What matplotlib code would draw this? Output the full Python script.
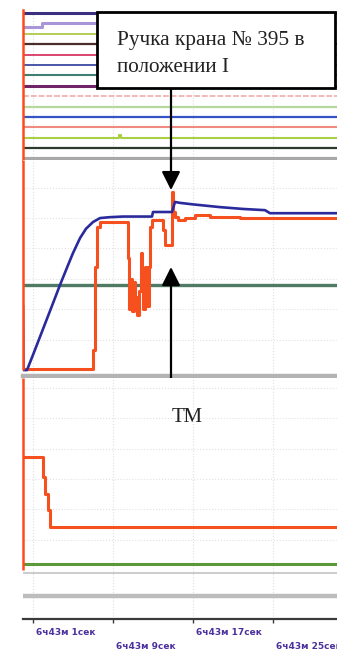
import numpy as np
import matplotlib.pyplot as plt
from matplotlib.patches import Rectangle

# time axis, seconds from start of the fragment
t_end = 31.4
tick_t = [1, 9, 17, 25]
tick_labels = ["6ч43м 1сек", "6ч43м 9сек", "6ч43м 17сек", "6ч43м 25сек"]

# discrete signal channels (top strip)
sig_colors = ["#3b2f80", "#a896d8", "#b4cc55", "#4a2c2c", "#d9476e", "#4a57a8",
              "#3f7f72", "#6e2466", "#f2b8b8", "#b5d99a", "#3355c4", "#f08a80",
              "#a9cf45", "#2d3b2d", "#a8a8a8"]
sig_widths = [2.2, 2.2, 1.4, 1.6, 1.4, 1.4, 1.5, 2.2, 1.4, 1.6, 1.6, 1.5, 1.5, 1.6, 3.0]
# state changes per channel: (time, state)
sig_events = {1: [(0, 0), (1.9, 1)], 12: [(0, 0), (9.6, 1), (9.75, 0)]}

# pressure in brake pipe (TM) and equalising reservoir, kgf/cm2
blue_t = [0, 0.05, 0.4, 1.0, 2.0, 3.0, 3.7, 4.5, 5.0, 5.7, 6.3, 7.0, 7.7, 8.7,
          10.0, 12.9, 13.0, 14.9, 15.2, 15.7, 17.0, 19.7, 22.0, 24.2, 24.7, 31.4]
blue_p = [2.1, 0.0, 0.0, 0.5, 1.35, 2.2, 2.8, 3.45, 3.85, 4.34, 4.65, 4.87, 5.0, 5.03,
          5.05, 5.05, 5.2, 5.2, 5.53, 5.5, 5.45, 5.36, 5.3, 5.26, 5.16, 5.16]
red_t = [0, 7.0, 7.2, 7.4, 7.7, 10.5, 10.6, 10.8, 10.9, 11.1, 11.2, 11.4, 11.6,
         11.8, 11.9, 12.0, 12.2, 12.4, 12.6, 12.7, 12.9,
         14.0, 14.2, 14.9, 15.0, 15.2, 15.5, 16.2, 17.2, 18.7, 21.7, 31.4]
red_p = [0.03, 0.66, 3.4, 4.7, 4.87, 3.7, 2.0, 3.0, 1.95, 2.9, 2.4, 1.8, 2.6,
         3.85, 2.9, 2.0, 3.4, 2.1, 3.4, 4.7, 4.93,
         4.6, 4.1, 5.86, 5.2, 5.03, 4.93, 5.0, 5.1, 5.03, 5.0, 5.0]
ref_level = 2.8

# brake cylinder pressure (bottom strip)
bc_t = [0, 2.0, 2.2, 2.5, 2.7, 31.4]
bc_p = [3.72, 3.06, 2.5, 1.97, 1.41, 1.41]
low_levels = [0.2, -0.1, -0.86]
low_colors = ["#5a9a3a", "#c4c4c4", "#bdbdbd"]
low_widths = [2.2, 1.2, 3.2]

fig = plt.figure(figsize=(3.37, 6.53), dpi=100)
H = 653.0
W = 337.0
left = 23 / W
width = 1 - left


def px_axes(top, bottom):
    return fig.add_axes([left, 1 - bottom / H, width, (bottom - top) / H])


ax_sig = px_axes(10, 160)
ax_mid = px_axes(160, 378)
ax_bot = px_axes(378, 619)

for ax in (ax_sig, ax_mid, ax_bot):
    ax.set_xlim(0, t_end)
    for s in ax.spines.values():
        s.set_visible(False)
    ax.tick_params(left=False, labelleft=False, bottom=False, labelbottom=False)
    for t in tick_t:
        ax.axvline(t, color="#dedede", lw=0.8, ls=":", zorder=0)

marker_red = "#ff4a1c"

# top strip
ax_sig.set_ylim(14.13, -0.29)
for i, c in enumerate(sig_colors):
    ev = sig_events.get(i, [(0, 0)])
    tt = [e[0] for e in ev] + [t_end]
    yy = [i + 0.3 - 0.3 * e[1] if i == 1 else i - 0.3 * e[1] for e in ev]
    yy = yy + [yy[-1]]
    ls = (0, (3, 1)) if i == 8 else "-"
    ax_sig.plot(tt, yy, drawstyle="steps-post", color=c, lw=sig_widths[i], ls=ls,
                solid_capstyle="butt")
ax_sig.axvline(0, color=marker_red, lw=1.8, zorder=5, clip_on=False)

# middle strip
ax_mid.set_ylim(-0.26, 6.91)
for p in range(1, 7):
    ax_mid.axhline(p, color="#e2e2e2", lw=0.8, ls=":", zorder=0)
ax_mid.axhline(ref_level, color="#4f7a64", lw=2.4)
ax_mid.axhline(-0.2, color="#b3b3b3", lw=3.2, clip_on=False)
ax_mid.vlines(0, 0, 6.91, color=marker_red, lw=1.8, zorder=5, clip_on=False)
ax_mid.plot(red_t, red_p, drawstyle="steps-post", color="#f5501e", lw=2.2, zorder=3)
ax_mid.plot(blue_t, blue_p, color="#2b2a9c", lw=1.9, zorder=4)

# bottom strip
ax_bot.set_ylim(-1.61, 6.32)
for p in range(1, 7):
    ax_bot.axhline(p, color="#e2e2e2", lw=0.8, ls=":", zorder=0)
for lvl, c, w in zip(low_levels, low_colors, low_widths):
    ax_bot.axhline(lvl, color=c, lw=w)
ax_bot.vlines(0, 0, 6.32, color=marker_red, lw=1.8, zorder=5, clip_on=False)
ax_bot.plot(bc_t, bc_p, drawstyle="steps-post", color="#f5501e", lw=2.2, zorder=3)

ax_bot.spines["bottom"].set_visible(True)
ax_bot.spines["bottom"].set_color("#3a3a3a")
ax_bot.spines["bottom"].set_linewidth(1.6)
ax_bot.set_xticks(tick_t)
ax_bot.tick_params(bottom=True, direction="out", length=3, width=1, color="#3a3a3a")
for k, (t, lab) in enumerate(zip(tick_t, tick_labels)):
    y = -0.055 if k % 2 == 0 else -0.115
    ax_bot.text(t + 0.3, y, lab, transform=ax_bot.get_xaxis_transform(),
                ha="left", va="center", fontsize=6.5, fontweight="bold",
                color="#4b2f9c")

# callouts
serif = "Liberation Serif"
box = Rectangle((97 / W, 1 - 88 / H), (335 - 97) / W, 76 / H, transform=fig.transFigure,
                facecolor="white", edgecolor="black", lw=2, zorder=10)
fig.add_artist(box)
fig.text(117 / W, 1 - 45 / H, "Ручка крана № 395 в", family=serif, fontsize=15.3,
         va="baseline", ha="left", zorder=11, color="#222222")
fig.text(117 / W, 1 - 72 / H, "положении I", family=serif, fontsize=15.3,
         va="baseline", ha="left", zorder=11, color="#222222")

t_arrow = 14.8
arrow = dict(arrowstyle="-|>,head_length=0.8,head_width=0.4", color="black",
             lw=1.6, mutation_scale=14, shrinkA=0, shrinkB=0)
ax_mid.annotate("", xy=(t_arrow, 5.92), xytext=(171, H - 88),
                textcoords="figure pixels", arrowprops=arrow, annotation_clip=False)
ax_mid.annotate("", xy=(t_arrow, 3.39), xytext=(171, H - 393),
                textcoords="figure pixels", arrowprops=arrow, annotation_clip=False)
fig.text(187 / W, 1 - 418 / H, "ТМ", family=serif, fontsize=15, ha="center",
         va="center", color="#222222")

fig.savefig("out.png", dpi=100)
